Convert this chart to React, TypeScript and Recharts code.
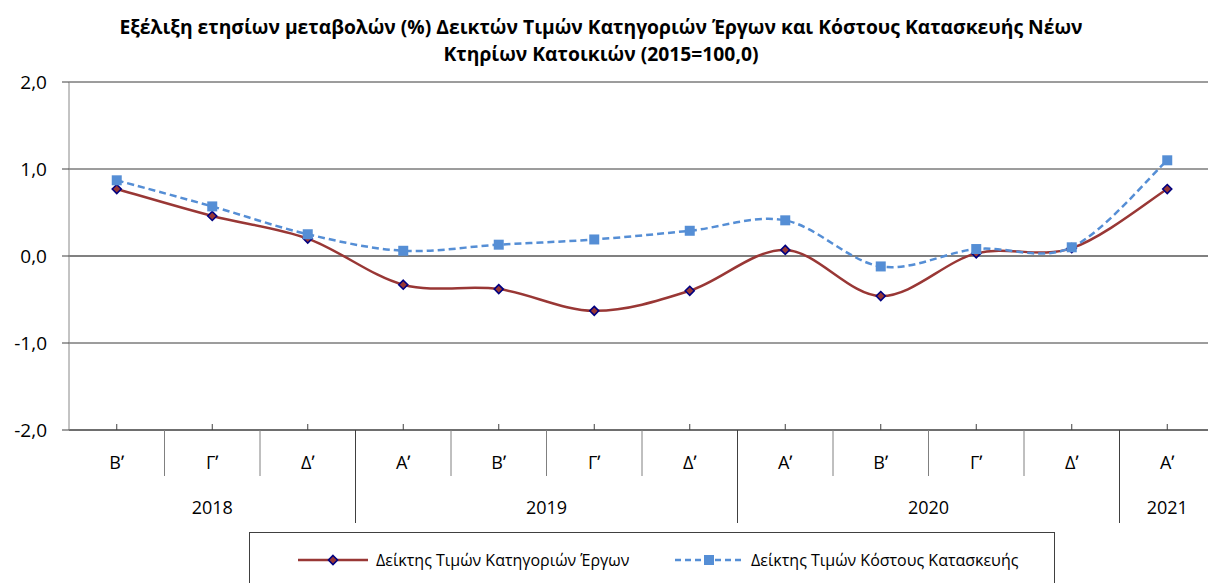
import { LineChart, Line, XAxis, YAxis, CartesianGrid, ReferenceLine } from "recharts";

// τρίμηνα και έτη του άξονα x
const quarters = ["Βʹ", "Γʹ", "Δʹ", "Αʹ", "Βʹ", "Γʹ", "Δʹ", "Αʹ", "Βʹ", "Γʹ", "Δʹ", "Αʹ"];
const years = ["2018", "2018", "2018", "2019", "2019", "2019", "2019", "2020", "2020", "2020", "2020", "2021"];

// ετήσιες μεταβολές (%)
const worksIndex = [0.77, 0.46, 0.2, -0.33, -0.38, -0.63, -0.4, 0.07, -0.46, 0.03, 0.09, 0.77];
const costIndex = [0.87, 0.57, 0.25, 0.06, 0.13, 0.19, 0.29, 0.41, -0.12, 0.08, 0.1, 1.1];

const yTicks = [-2, -1, 0, 1, 2];

const WORKS_NAME = "Δείκτης Τιμών Κατηγοριών Έργων";
const COST_NAME = "Δείκτης Τιμών Κόστους Κατασκευής";

const RED = "#993735";
const NAVY = "#000080";
const BLUE = "#558ED5";
const FONT = "'Open Sans', 'Noto Sans', sans-serif";

const data = quarters.map((q, i) => ({
  i,
  q,
  year: years[i],
  works: worksIndex[i],
  cost: costIndex[i],
}));

// Excel-like smoothing (Catmull-Rom through the points)
const smoothCurve = (ctx: any) => {
  let pts: number[][] = [];
  return {
    areaStart() {},
    areaEnd() {},
    lineStart() {
      pts = [];
    },
    point(x: number, y: number) {
      pts.push([x, y]);
    },
    lineEnd() {
      if (!pts.length) return;
      ctx.moveTo(pts[0][0], pts[0][1]);
      for (let k = 0; k < pts.length - 1; k++) {
        const p0 = pts[k - 1] || pts[k];
        const p1 = pts[k];
        const p2 = pts[k + 1];
        const p3 = pts[k + 2] || p2;
        ctx.bezierCurveTo(
          p1[0] + (p2[0] - p0[0]) / 6,
          p1[1] + (p2[1] - p0[1]) / 6,
          p2[0] - (p3[0] - p1[0]) / 6,
          p2[1] - (p3[1] - p1[1]) / 6,
          p2[0],
          p2[1]
        );
      }
    },
  };
};

const Diamond = (props: any) => {
  const { cx, cy } = props;
  if (cx == null || cy == null) return null;
  const r = 4.5;
  return (
    <polygon
      points={`${cx},${cy - r} ${cx + r},${cy} ${cx},${cy + r} ${cx - r},${cy}`}
      fill={RED}
      stroke={NAVY}
      strokeWidth={1.6}
    />
  );
};

const Square = (props: any) => {
  const { cx, cy } = props;
  if (cx == null || cy == null) return null;
  return <rect x={cx - 5} y={cy - 5} width={10} height={10} fill={BLUE} />;
};

const fmt = (v: number) => v.toFixed(1).replace(".", ",");

// δύο επίπεδα ετικετών: τρίμηνο και έτος
const QuarterTick = (props: any) => {
  const { x, y, payload, width, visibleTicksCount } = props;
  const idx = payload.index;
  const n = years.length;
  const bw = width / (visibleTicksCount || n);
  const isFirst = idx === 0 || years[idx] !== years[idx - 1];
  const isLast = idx === n - 1 || years[idx] !== years[idx + 1];
  let groupLen = 1;
  while (idx + groupLen < n && years[idx + groupLen] === years[idx]) groupLen++;
  const right = x + bw / 2;
  return (
    <g>
      <line x1={x} x2={x} y1={y - 6} y2={y} stroke="#404040" />
      <text x={x} y={y + 39} textAnchor="middle" fontSize={18} fontFamily={FONT} fill="#000">
        {quarters[idx]}
      </text>
      {isLast ? (
        <line x1={right} x2={right} y1={y} y2={y + 93} stroke="#404040" />
      ) : (
        <line x1={right} x2={right} y1={y} y2={y + 46} stroke="#808080" />
      )}
      {isFirst && (
        <text
          x={x + ((groupLen - 1) * bw) / 2}
          y={y + 84}
          textAnchor="middle"
          fontSize={18}
          fontFamily={FONT}
          fill="#000"
        >
          {years[idx]}
        </text>
      )}
    </g>
  );
};

export default function App() {
  return (
    <div
      style={{
        position: "absolute",
        left: 0,
        top: 0,
        width: 1208,
        height: 583,
        overflow: "hidden",
        background: "#fff",
        fontFamily: FONT,
      }}
    >
      <div
        style={{
          position: "absolute",
          left: 0,
          top: 13,
          width: 1202,
          textAlign: "center",
          fontWeight: 700,
          fontSize: 19.3,
          lineHeight: "27px",
          color: "#000",
        }}
      >
        Εξέλιξη ετησίων μεταβολών (%) Δεικτών Τιμών Κατηγοριών Έργων και Κόστους Κατασκευής Νέων
        <br />
        Κτηρίων Κατοικιών (2015=100,0)
      </div>

      <LineChart width={1220} height={583} data={data} margin={{ top: 82, right: 5, bottom: 0, left: 0 }}>
        <CartesianGrid vertical={false} stroke="#3a3a3a" strokeWidth={1} />
        <XAxis
          dataKey="i"
          scale="band"
          interval={0}
          height={153}
          tickLine={false}
          tickSize={0}
          tickMargin={0}
          axisLine={{ stroke: "#404040" }}
          tick={<QuarterTick />}
        />
        <YAxis
          domain={[-2, 2]}
          ticks={yTicks}
          width={69}
          tickFormatter={fmt}
          tickSize={7}
          tickMargin={15}
          axisLine={{ stroke: "#888" }}
          tickLine={{ stroke: "#404040" }}
          tick={{ fontSize: 19, fill: "#000", fontFamily: FONT }}
        />
        <ReferenceLine y={0} stroke="#808080" strokeWidth={2} />
        <Line
          dataKey="works"
          name={WORKS_NAME}
          type={smoothCurve as any}
          stroke={RED}
          strokeWidth={2.5}
          dot={<Diamond />}
          activeDot={false}
          isAnimationActive={false}
        />
        <Line
          dataKey="cost"
          name={COST_NAME}
          type={smoothCurve as any}
          stroke={BLUE}
          strokeWidth={2.5}
          strokeDasharray="7 4"
          dot={<Square />}
          activeDot={false}
          isAnimationActive={false}
        />
      </LineChart>

      {/* το υπόμνημα κόβεται στο κάτω μέρος */}
      <div
        style={{
          position: "absolute",
          left: 249,
          top: 532,
          width: 806,
          height: 70,
          border: "1px solid #404040",
          boxSizing: "border-box",
        }}
      >
        <div style={{ position: "absolute", left: 47, top: 16, display: "flex", alignItems: "center", fontSize: 16 }}>
          <svg width={72} height={12}>
            <line x1={1} x2={71} y1={6} y2={6} stroke={RED} strokeWidth={2.5} />
            <Diamond cx={36} cy={6} />
          </svg>
          <span style={{ marginLeft: 7 }}>{WORKS_NAME}</span>
        </div>
        <div style={{ position: "absolute", left: 424, top: 16, display: "flex", alignItems: "center", fontSize: 16 }}>
          <svg width={70} height={12}>
            <line x1={1} x2={69} y1={6} y2={6} stroke={BLUE} strokeWidth={2.5} strokeDasharray="6 4" />
            <Square cx={35} cy={6} />
          </svg>
          <span style={{ marginLeft: 7 }}>{COST_NAME}</span>
        </div>
      </div>
    </div>
  );
}
